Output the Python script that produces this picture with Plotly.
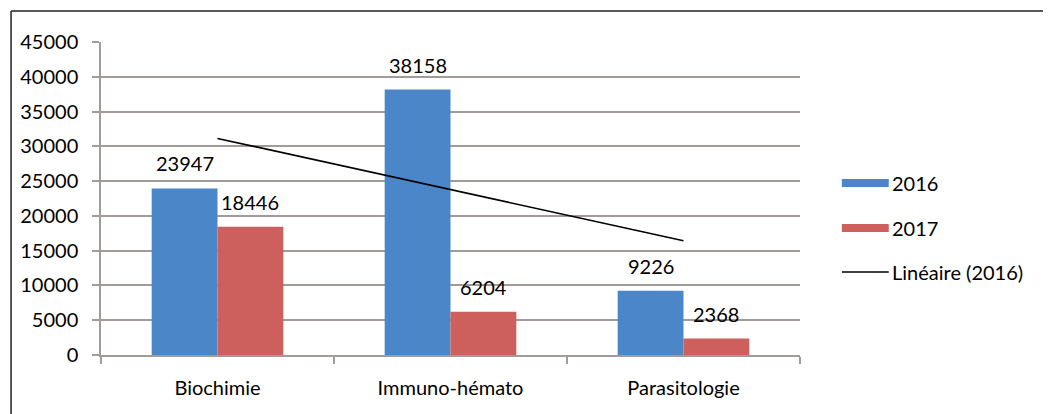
import numpy as np
import plotly.graph_objects as go

categories = ["Biochimie", "Immuno-hémato", "Parasitologie"]
values_2016 = [23947, 38158, 9226]
values_2017 = [18446, 6204, 2368]
series_names = ["2016", "2017", "Linéaire (2016)"]
y_ticks = [0, 5000, 10000, 15000, 20000, 25000, 30000, 35000, 40000, 45000]

BLUE = "#4A86C8"
RED = "#CD5F5C"
GRID = "#A39A9A"
FONT = "Lato"

# Excel-style linear trendline through the 2016 series
idx = np.arange(len(categories))
slope, intercept = np.polyfit(idx, values_2016, 1)
trend = slope * idx + intercept

fig = go.Figure()
fig.add_trace(go.Bar(x=categories, y=values_2016, name=series_names[0],
                     marker=dict(color=BLUE, line=dict(width=0)), showlegend=False))
fig.add_trace(go.Bar(x=categories, y=values_2017, name=series_names[1],
                     marker=dict(color=RED, line=dict(width=0)), showlegend=False))
fig.add_trace(go.Scatter(x=categories, y=trend, mode="lines", name=series_names[2],
                         line=dict(color="black", width=1.6), showlegend=False))

bargap = 0.435
bw = (1 - bargap) / 2
annotations = []
for i, (a, b) in enumerate(zip(values_2016, values_2017)):
    annotations.append(dict(x=i - bw / 2, y=a, xref="x", yref="y", text=str(a),
                            showarrow=False, yanchor="bottom", yshift=11,
                            font=dict(family=FONT, size=20, color="black")))
    annotations.append(dict(x=i + bw / 2, y=b, xref="x", yref="y", text=str(b),
                            showarrow=False, yanchor="bottom", yshift=11,
                            font=dict(family=FONT, size=20, color="black")))

# Page offset (browser body margin) and geometry in screen pixels
OFF = 8
W, H = 1051 - OFF, 414 - OFF
ML, MT = 99 - OFF, 42 - OFF
MR = W - (800 - OFF)
MB = H - (355 - OFF)
PW, PH = W - ML - MR, H - MT - MB

def px(x):
    return (x - OFF - ML) / PW

def py(y):
    return (H - MB - (y - OFF)) / PH

# Manual legend (Excel-like wide swatches)
shapes = []
legend_rows = [183, 228, 272]
for k, (name, col) in enumerate(zip(series_names[:2], [BLUE, RED])):
    yc = legend_rows[k]
    shapes.append(dict(type="rect", xref="paper", yref="paper",
                       x0=px(842), x1=px(889), y0=py(yc + 4), y1=py(yc - 4),
                       fillcolor=col, line=dict(width=0)))
    annotations.append(dict(x=px(890), y=py(yc), xref="paper", yref="paper",
                            text=name, showarrow=False, xanchor="left", yanchor="middle",
                            font=dict(family=FONT, size=20, color="black")))
yc = legend_rows[2]
shapes.append(dict(type="line", xref="paper", yref="paper",
                   x0=px(842), x1=px(889), y0=py(yc), y1=py(yc),
                   line=dict(color="black", width=1.6)))
annotations.append(dict(x=px(890), y=py(yc), xref="paper", yref="paper",
                        text=series_names[2], showarrow=False, xanchor="left", yanchor="middle",
                        font=dict(family=FONT, size=20, color="black")))

# Outer chart border (top and left visible)
shapes.append(dict(type="line", xref="paper", yref="paper",
                   x0=px(8.8), x1=px(1060), y0=py(11), y1=py(11),
                   line=dict(color="#222222", width=1.5)))
shapes.append(dict(type="line", xref="paper", yref="paper",
                   x0=px(8.8), x1=px(8.8), y0=py(11), y1=py(420),
                   line=dict(color="#222222", width=1.5)))

fig.update_layout(
    width=W, height=H,
    margin=dict(l=ML, r=MR, t=MT, b=MB),
    paper_bgcolor="white", plot_bgcolor="white",
    barmode="group", bargap=bargap, bargroupgap=0,
    font=dict(family=FONT, size=20, color="black"),
    showlegend=False,
    annotations=annotations,
    shapes=shapes,
)
fig.update_xaxes(
    type="category", showgrid=False, showline=True, linecolor=GRID, linewidth=1.5,
    ticks="outside", tickson="boundaries", ticklen=7, tickcolor=GRID, tickwidth=1.5,
    ticklabelstandoff=14,
    tickfont=dict(family=FONT, size=20, color="black"),
)
fig.update_yaxes(
    range=[0, 45000], tickvals=y_ticks, ticktext=[str(v) for v in y_ticks],
    showgrid=True, gridcolor=GRID, gridwidth=1.5,
    showline=True, linecolor=GRID, linewidth=1.5,
    ticks="outside", ticklen=7, tickcolor=GRID, tickwidth=1.5,
    ticklabelstandoff=10,
    tickfont=dict(family=FONT, size=20, color="black"),
    zeroline=False,
)

fig.write_html("out.html")
